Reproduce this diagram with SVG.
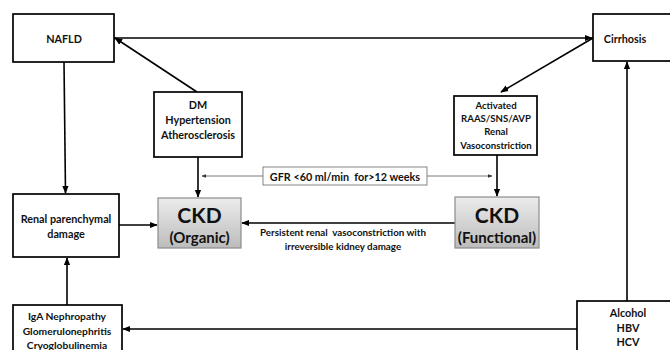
<svg xmlns="http://www.w3.org/2000/svg" width="670" height="350" viewBox="0 0 670 350">
<style>
.box{fill:#fff;stroke:#000;stroke-width:1.7}
.ckd{fill:url(#g);stroke:#8c8c8c;stroke-width:1.2}
text{font-family:Lato,"Open Sans","Liberation Sans",sans-serif;font-weight:bold;fill:#111;text-anchor:middle;dominant-baseline:central;white-space:pre}
.t{font-size:10.8px}
.a{font-size:9.6px}
.i{font-size:10.3px}
.s{font-size:9.8px}
.big{font-size:21px}
.mid{font-size:15px}
.c{stroke:#000;stroke-width:1.6;fill:none}
.thin{stroke:#555;stroke-width:0.8;fill:none}
</style>
<defs>
<linearGradient id="g" x1="0" y1="0" x2="0" y2="1">
<stop offset="0" stop-color="#ececec"/>
<stop offset="1" stop-color="#bcbcbc"/>
</linearGradient>
<marker id="a" viewBox="0 0 10 10" refX="9" refY="5" markerWidth="5" markerHeight="5" orient="auto" markerUnits="strokeWidth">
<path d="M0,1 L10,5 L0,9 z" fill="#000"/>
</marker>
<marker id="b" viewBox="0 0 10 10" refX="9" refY="5" markerWidth="6" markerHeight="6" orient="auto" markerUnits="strokeWidth">
<path d="M0,1 L10,5 L0,9 z" fill="#333"/>
</marker>
</defs>
<g id="connectors">
<line class="c" x1="114" y1="38" x2="592" y2="38" marker-end="url(#a)"/>
<line class="c" x1="197" y1="92" x2="115" y2="38" marker-end="url(#a)"/>
<line class="c" x1="593" y1="38" x2="501" y2="92" marker-end="url(#a)"/>
<line class="c" x1="64" y1="62" x2="65.5" y2="193" marker-end="url(#a)"/>
<line class="c" x1="198" y1="157" x2="198" y2="197" marker-end="url(#a)"/>
<line class="c" x1="497" y1="155" x2="497" y2="196" marker-end="url(#a)"/>
<line class="thin" x1="263" y1="176" x2="202" y2="176" marker-end="url(#b)"/>
<line class="thin" x1="427" y1="176" x2="492" y2="176" marker-end="url(#b)"/>
<line class="c" x1="455" y1="223" x2="242" y2="223" marker-end="url(#a)"/>
<line class="c" x1="119" y1="225" x2="157" y2="225" marker-end="url(#a)"/>
<line class="c" x1="67" y1="305" x2="67" y2="258" marker-end="url(#a)"/>
<line class="c" x1="577" y1="329" x2="123" y2="329" marker-end="url(#a)"/>
<line class="c" x1="627" y1="301" x2="627" y2="62" marker-end="url(#a)"/>
</g>
<g id="nafld">
<rect class="box" x="13" y="14" width="101" height="48"/>
<text class="t" x="64" y="38">NAFLD</text>
</g>
<g id="cirrhosis">
<rect class="box" x="593" y="14" width="80" height="47"/>
<text class="t" x="625" y="38">Cirrhosis</text>
</g>
<g id="dm">
<rect class="box" x="154" y="92" width="88" height="65"/>
<text class="t" x="198" y="104">DM</text>
<text class="t" x="198" y="119">Hypertension</text>
<text class="t" x="198" y="134">Atherosclerosis</text>
</g>
<g id="activated">
<rect class="box" x="454" y="96" width="83" height="59"/>
<text class="a" x="496" y="105">Activated</text>
<text class="a" x="496" y="118">RAAS/SNS/AVP</text>
<text class="a" x="496" y="131">Renal</text>
<text class="a" x="496" y="145">Vasoconstriction</text>
</g>
<g id="gfr">
<rect x="263" y="167" width="164" height="18" fill="#fff" stroke="#666" stroke-width="0.8"/>
<text class="t" x="345" y="176">GFR &lt;60 ml/min  for&gt;12 weeks</text>
</g>
<g id="ckd-organic">
<rect class="ckd" x="158" y="198" width="83" height="50"/>
<text class="big" x="199.5" y="214">CKD</text>
<text class="mid" x="199.5" y="237">(Organic)</text>
</g>
<g id="ckd-functional">
<rect class="ckd" x="455" y="197" width="84" height="51"/>
<text class="big" x="497" y="214">CKD</text>
<text class="mid" x="497" y="237">(Functional)</text>
</g>
<g id="persistent-label">
<text class="s" x="343" y="232">Persistent renal  vasoconstriction with</text>
<text class="s" x="343" y="246">irreversible kidney damage</text>
</g>
<g id="renal">
<rect class="box" x="13" y="194" width="106" height="63"/>
<text class="t" x="66" y="218">Renal parenchymal</text>
<text class="t" x="66" y="233">damage</text>
</g>
<g id="iga">
<rect class="box" x="13" y="305" width="109" height="50"/>
<text class="i" x="67" y="316">IgA Nephropathy</text>
<text class="i" x="67" y="331">Glomerulonephritis</text>
<text class="i" x="67" y="345">Cryoglobulinemia</text>
</g>
<g id="alcohol">
<rect class="box" x="577" y="301" width="96" height="55"/>
<text class="t" x="628" y="312">Alcohol</text>
<text class="t" x="628" y="327">HBV</text>
<text class="t" x="628" y="341">HCV</text>
</g>
</svg>
